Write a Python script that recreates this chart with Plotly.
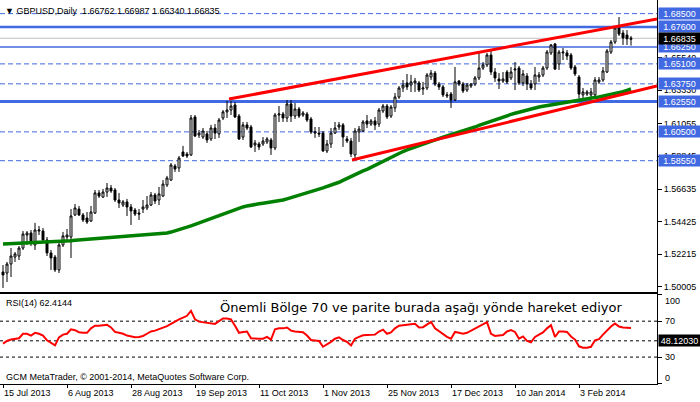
import plotly.graph_objects as go

# ---------------- data ----------------
date_labels = ['15 Jul 2013', '6 Aug 2013', '28 Aug 2013', '19 Sep 2013', '11 Oct 2013',
               '1 Nov 2013', '25 Nov 2013', '17 Dec 2013', '10 Jan 2014', '3 Feb 2014']
date_bars = [0, 16, 32, 48, 64, 80, 96, 112, 128, 144]

opens = [1.5102, 1.5095, 1.5156, 1.5203, 1.5210, 1.5264, 1.5352, 1.5366, 1.5285, 1.5379,
         1.5379, 1.5319, 1.5231, 1.5203, 1.5116, 1.5285, 1.5339, 1.5339, 1.5488, 1.5528,
         1.5488, 1.5467, 1.5447, 1.5501, 1.5637, 1.5609, 1.5643, 1.5670, 1.5657, 1.5589,
         1.5555, 1.5576, 1.5542, 1.5521, 1.5501, 1.5528, 1.5535, 1.5555, 1.5623, 1.5589,
         1.5616, 1.5691, 1.5724, 1.5819, 1.5806, 1.5914, 1.5900, 1.5894, 1.6151, 1.6029,
         1.6015, 1.6036, 1.6002, 1.6076, 1.6036, 1.6144, 1.6185, 1.6198, 1.6232, 1.6157,
         1.6015, 1.6097, 1.6083, 1.5961, 1.5968, 1.5968, 1.5982, 1.5995, 1.5941, 1.6164,
         1.6171, 1.6144, 1.6239, 1.6157, 1.6205, 1.6164, 1.6171, 1.6137, 1.6042, 1.6042,
         1.6042, 1.5921, 1.5968, 1.6042, 1.6083, 1.6097, 1.6002, 1.5988, 1.5894, 1.6049,
         1.6056, 1.6124, 1.6103, 1.6124, 1.6103, 1.6191, 1.6225, 1.6157, 1.6212, 1.6286,
         1.6347, 1.6381, 1.6367, 1.6381, 1.6381, 1.6340, 1.6347, 1.6421, 1.6448, 1.6374,
         1.6354, 1.6293, 1.6306, 1.6266, 1.6394, 1.6374, 1.6333, 1.6360, 1.6374, 1.6415,
         1.6482, 1.6503, 1.6570, 1.6455, 1.6408, 1.6394, 1.6455, 1.6415, 1.6469, 1.6482,
         1.6381, 1.6428, 1.6374, 1.6374, 1.6421, 1.6435, 1.6482, 1.6584, 1.6645, 1.6509,
         1.6584, 1.6584, 1.6570, 1.6489, 1.6421, 1.6300, 1.6306, 1.6300, 1.6300, 1.6388,
         1.6401, 1.6455, 1.6590, 1.6658, 1.6753, 1.6719, 1.6705, 1.66762]
highs = [1.5149, 1.5170, 1.5264, 1.5237, 1.5278, 1.5379, 1.5379, 1.5386, 1.5434, 1.5413,
         1.5400, 1.5339, 1.5251, 1.5217, 1.5298, 1.5373, 1.5393, 1.5528, 1.5562, 1.5549,
         1.5501, 1.5508, 1.5549, 1.5657, 1.5657, 1.5664, 1.5704, 1.5691, 1.5670, 1.5637,
         1.5589, 1.5596, 1.5562, 1.5535, 1.5528, 1.5589, 1.5616, 1.5643, 1.5637, 1.5677,
         1.5724, 1.5752, 1.5839, 1.5833, 1.5887, 1.5955, 1.5914, 1.6164, 1.6164, 1.6063,
         1.6076, 1.6056, 1.6097, 1.6103, 1.6144, 1.6198, 1.6259, 1.6259, 1.6252, 1.6171,
         1.6117, 1.6117, 1.6097, 1.5995, 1.5982, 1.6015, 1.6015, 1.6009, 1.6178, 1.6225,
         1.6185, 1.6266, 1.6266, 1.6245, 1.6218, 1.6191, 1.6185, 1.6151, 1.6083, 1.6083,
         1.6056, 1.5995, 1.6076, 1.6117, 1.6117, 1.6110, 1.6022, 1.6009, 1.6076, 1.6090,
         1.6130, 1.6164, 1.6137, 1.6151, 1.6212, 1.6239, 1.6239, 1.6232, 1.6313, 1.6360,
         1.6401, 1.6442, 1.6435, 1.6415, 1.6394, 1.6388, 1.6448, 1.6469, 1.6462, 1.6388,
         1.6367, 1.6320, 1.6320, 1.6489, 1.6401, 1.6388, 1.6381, 1.6381, 1.6428, 1.6584,
         1.6523, 1.6584, 1.6604, 1.6482, 1.6448, 1.6455, 1.6469, 1.6489, 1.6523, 1.6496,
         1.6469, 1.6448, 1.6401, 1.6489, 1.6455, 1.6496, 1.6604, 1.6645, 1.6651, 1.6604,
         1.6618, 1.6604, 1.6584, 1.6503, 1.6435, 1.6347, 1.6333, 1.6347, 1.6421, 1.6421,
         1.6489, 1.6611, 1.6672, 1.6766, 1.6827, 1.6739, 1.6739, 1.66987]
lows = [1.4994, 1.5034, 1.5068, 1.5170, 1.5183, 1.5251, 1.5285, 1.5278, 1.5251, 1.5352,
        1.5305, 1.5210, 1.5116, 1.5102, 1.5095, 1.5271, 1.5305, 1.5197, 1.5481, 1.5481,
        1.5440, 1.5427, 1.5440, 1.5494, 1.5603, 1.5603, 1.5610, 1.5637, 1.5576, 1.5535,
        1.5542, 1.5481, 1.5420, 1.5481, 1.5454, 1.5501, 1.5521, 1.5548, 1.5562, 1.5555,
        1.5610, 1.5677, 1.5718, 1.5779, 1.5779, 1.5880, 1.5873, 1.5887, 1.6015, 1.6009,
        1.6002, 1.5975, 1.5988, 1.6002, 1.6009, 1.6130, 1.6144, 1.6164, 1.6144, 1.5995,
        1.5995, 1.6063, 1.5941, 1.5914, 1.5927, 1.5955, 1.5968, 1.5894, 1.5927, 1.6117,
        1.6117, 1.6117, 1.6117, 1.6137, 1.6144, 1.6151, 1.6117, 1.6036, 1.6009, 1.6015,
        1.5914, 1.5907, 1.5941, 1.6036, 1.6063, 1.5948, 1.5975, 1.5880, 1.5860, 1.5982,
        1.6049, 1.6076, 1.6090, 1.6063, 1.6083, 1.6178, 1.6137, 1.6144, 1.6185, 1.6273,
        1.6320, 1.6333, 1.6320, 1.6320, 1.6320, 1.6300, 1.6333, 1.6401, 1.6360, 1.6333,
        1.6286, 1.6279, 1.6212, 1.6259, 1.6360, 1.6313, 1.6320, 1.6347, 1.6360, 1.6401,
        1.6469, 1.6489, 1.6435, 1.6388, 1.6340, 1.6381, 1.6374, 1.6401, 1.6333, 1.6367,
        1.6360, 1.6333, 1.6333, 1.6333, 1.6388, 1.6421, 1.6469, 1.6570, 1.6469, 1.6469,
        1.6536, 1.6536, 1.6469, 1.6428, 1.6273, 1.6273, 1.6293, 1.6286, 1.6273, 1.6374,
        1.6388, 1.6448, 1.6577, 1.6645, 1.6699, 1.6638, 1.6638, 1.66340]
closes = [1.5082, 1.5156, 1.5210, 1.5224, 1.5264, 1.5359, 1.5366, 1.5298, 1.5386, 1.5386,
          1.5319, 1.5231, 1.5197, 1.5116, 1.5285, 1.5346, 1.5352, 1.5481, 1.5535, 1.5488,
          1.5454, 1.5440, 1.5508, 1.5637, 1.5616, 1.5643, 1.5670, 1.5650, 1.5589, 1.5569,
          1.5576, 1.5542, 1.5515, 1.5494, 1.5494, 1.5542, 1.5555, 1.5623, 1.5582, 1.5630,
          1.5697, 1.5738, 1.5826, 1.5799, 1.5873, 1.5887, 1.5887, 1.6144, 1.6022, 1.6042,
          1.6056, 1.5995, 1.6076, 1.6042, 1.6130, 1.6185, 1.6198, 1.6225, 1.6151, 1.6002,
          1.6097, 1.6076, 1.5948, 1.5975, 1.5948, 1.5988, 1.6002, 1.5941, 1.6164, 1.6171,
          1.6144, 1.6239, 1.6157, 1.6205, 1.6157, 1.6178, 1.6130, 1.6049, 1.6049, 1.6036,
          1.5921, 1.5968, 1.6042, 1.6076, 1.6097, 1.6015, 1.5988, 1.5900, 1.6056, 1.6069,
          1.6117, 1.6103, 1.6124, 1.6097, 1.6198, 1.6225, 1.6151, 1.6218, 1.6286, 1.6347,
          1.6367, 1.6354, 1.6388, 1.6394, 1.6333, 1.6347, 1.6435, 1.6448, 1.6374, 1.6354,
          1.6300, 1.6300, 1.6266, 1.6388, 1.6374, 1.6327, 1.6367, 1.6374, 1.6415, 1.6482,
          1.6503, 1.6570, 1.6455, 1.6415, 1.6394, 1.6408, 1.6388, 1.6455, 1.6475, 1.6381,
          1.6442, 1.6374, 1.6347, 1.6435, 1.6435, 1.6482, 1.6590, 1.6638, 1.6475, 1.6590,
          1.6590, 1.6563, 1.6482, 1.6442, 1.6306, 1.6320, 1.6320, 1.6320, 1.6401, 1.6401,
          1.6462, 1.6597, 1.6658, 1.6753, 1.6712, 1.6685, 1.6680, 1.66835]

ma_values = [1.5291, 1.5292, 1.5293, 1.5294, 1.5295, 1.5297, 1.5298, 1.5299, 1.5300, 1.5302,
             1.5303, 1.5305, 1.5306, 1.5307, 1.5308, 1.5310, 1.5312, 1.5313, 1.5316, 1.5318,
             1.5320, 1.5322, 1.5324, 1.5326, 1.5328, 1.5331, 1.5334, 1.5336, 1.5339, 1.5341,
             1.5343, 1.5345, 1.5347, 1.5349, 1.5351, 1.5353, 1.5355, 1.5357, 1.5359, 1.5361,
             1.5363, 1.5366, 1.5372, 1.5379, 1.5387, 1.5396, 1.5405, 1.5414, 1.5424, 1.5434,
             1.5444, 1.5455, 1.5465, 1.5475, 1.5485, 1.5496, 1.5506, 1.5516, 1.5525, 1.5534,
             1.5542, 1.5549, 1.5555, 1.5559, 1.5563, 1.5567, 1.5571, 1.5575, 1.5579, 1.5584,
             1.5589, 1.5597, 1.5606, 1.5614, 1.5623, 1.5631, 1.5639, 1.5647, 1.5655, 1.5663,
             1.5671, 1.5679, 1.5687, 1.5697, 1.5709, 1.5722, 1.5736, 1.5748, 1.5760, 1.5773,
             1.5786, 1.5796, 1.5810, 1.5824, 1.5838, 1.5852, 1.5866, 1.5879, 1.5893, 1.5907,
             1.5917, 1.5928, 1.5938, 1.5949, 1.5959, 1.5969, 1.5979, 1.5990, 1.5999, 1.6007,
             1.6015, 1.6023, 1.6031, 1.6039, 1.6047, 1.6055, 1.6063, 1.6073, 1.6083, 1.6094,
             1.6104, 1.6114, 1.6124, 1.6134, 1.6144, 1.6152, 1.6160, 1.6168, 1.6176, 1.6184,
             1.6192, 1.6200, 1.6208, 1.6213, 1.6218, 1.6223, 1.6228, 1.6233, 1.6238, 1.6243,
             1.6248, 1.6253, 1.6258, 1.6263, 1.6268, 1.6272, 1.6276, 1.6279, 1.6283, 1.6286,
             1.6291, 1.6297, 1.6302, 1.6308, 1.6313, 1.6322, 1.6331, 1.6340]

rsi_values = [45, 48, 49.5, 50, 51, 56, 56, 54, 57, 56,
              54, 48.7, 46, 43, 52, 55, 56, 61, 60, 57.7,
              57, 57, 62, 65, 65, 65.5, 66, 63, 58, 57,
              56, 54, 53, 52, 52.4, 53.5, 56, 58.5, 59.5, 61,
              63, 64.5, 67, 70, 72, 74, 76, 81.6, 72, 69.5,
              69, 68.5, 68, 67, 70, 73, 73, 72, 65, 57,
              58, 58.5, 51, 50.5, 50.5, 50.5, 52.5, 49.4, 61, 62,
              62, 63, 59.5, 58.5, 57.7, 57.7, 54, 49, 48.5, 48,
              41.5, 44, 47, 50.5, 52, 49, 47, 43, 50.5, 52.5,
              54.3, 54.5, 55, 55, 58.5, 60.6, 56, 57.5, 62, 65,
              65.5, 66.3, 66.5, 67, 63, 63.3, 66.5, 69.3, 62, 58.5,
              55, 52.5, 50.5, 58, 57, 56, 57, 59.5, 62, 63.6,
              66.5, 69, 56, 53.5, 54, 54.5, 58.5, 60, 58, 50.5,
              53, 48, 46.5, 52.4, 55, 57.5, 62, 65.5, 52.4, 58.5,
              58.5, 58, 53, 49.5, 42, 40.5, 40.5, 41.5, 48.7, 50,
              55, 60, 64, 67.4, 64, 63, 63, 62.41]

# trend lines (bar index, price)
upper_trend_x = [56.5, 163.5]
upper_trend_y = [1.6272, 1.6814]
lower_trend_x = [87.25, 163.5]
lower_trend_y = [1.5860, 1.6360]

# horizontal levels
solid_levels = [1.67600, 1.66250, 1.62550]
solid_widths = [2.5, 1.5, 3]
dashed_levels = [1.68500, 1.65100, 1.63750, 1.60500, 1.58550]
current_price = 1.66835
price_ticks = [1.50005, 1.52215, 1.54425, 1.56635, 1.58845, 1.61055, 1.63330, 1.65540]

rsi_levels = [70, 48.1203, 30]
rsi_label_level = 48.1203
rsi_tick_vals = [100, 70, 30, 0]
rsi_tick_y = [92.4, 70, 30, 6.2]   # MT4 keeps the 0/100 labels inside the window

title_text = "▼ GBPUSD,Daily  1.66762 1.66987 1.66340 1.66835"
rsi_title = "RSI(14) 62.4144"
note_text = "Önemli Bölge 70 ve parite burada aşağı yönde hareket ediyor"
copyright_text = "GCM MetaTrader, © 2001-2014, MetaQuotes Software Corp."

# ---------------- figure ----------------
n = len(closes)
bars = list(range(n))
BLUE = "#4169E1"
FONT = "Liberation Sans, Arial, sans-serif"

fig = go.Figure()

fig.add_trace(go.Scatter(x=bars, y=ma_values, mode="lines", xaxis="x2", yaxis="y",
                         line=dict(color="#008000", width=3.5), hoverinfo="skip"))
fig.add_trace(go.Candlestick(x=bars, open=opens, high=highs, low=lows, close=closes,
                             xaxis="x2", yaxis="y", whiskerwidth=0,
                             increasing=dict(line=dict(color="black", width=1), fillcolor="white"),
                             decreasing=dict(line=dict(color="black", width=1), fillcolor="black"),
                             hoverinfo="skip"))
fig.add_trace(go.Scatter(x=upper_trend_x, y=upper_trend_y, mode="lines", xaxis="x2", yaxis="y",
                         line=dict(color="#FF0000", width=3), hoverinfo="skip"))
fig.add_trace(go.Scatter(x=lower_trend_x, y=lower_trend_y, mode="lines", xaxis="x2", yaxis="y",
                         line=dict(color="#FF0000", width=3), hoverinfo="skip"))
fig.add_trace(go.Scatter(x=bars, y=rsi_values, mode="lines", xaxis="x", yaxis="y2",
                         line=dict(color="#FF0000", width=2), hoverinfo="skip"))

shapes = []
for lv in dashed_levels:
    shapes.append(dict(type="line", xref="paper", x0=0, x1=1, yref="y", y0=lv, y1=lv,
                       line=dict(color=BLUE, width=1, dash="5px,3px"), layer="below"))
shapes.append(dict(type="line", xref="paper", x0=0, x1=1, yref="y", y0=current_price, y1=current_price,
                   line=dict(color="#C0C0C0", width=1), layer="below"))
for lv, w in zip(solid_levels, solid_widths):
    shapes.append(dict(type="line", xref="paper", x0=0, x1=1, yref="y", y0=lv, y1=lv,
                       line=dict(color=BLUE, width=w), layer="below"))
for lv in rsi_levels:
    shapes.append(dict(type="line", xref="paper", x0=0, x1=1, yref="y2", y0=lv, y1=lv,
                       line=dict(color="black", width=1, dash="3px,3px"), layer="below"))

annotations = []
def box(y, yref, text, bg):
    annotations.append(dict(xref="paper", x=1, xanchor="left", xshift=1, yref=yref, y=y,
                            text=text, showarrow=False, bgcolor=bg, width=41, height=11,
                            align="center", borderpad=0,
                            font=dict(family=FONT, size=9, color="white")))

for lv in dashed_levels + solid_levels:
    box(lv, "y", f"{lv:.5f}", BLUE)
box(current_price, "y", f"{current_price:.5f}", "black")
box(rsi_label_level, "y2", f"{rsi_label_level:.5f}", "black")

for v, yy in zip(rsi_tick_vals, rsi_tick_y):
    annotations.append(dict(xref="paper", x=1, xanchor="left", xshift=6, yref="y2", y=yy,
                            text=str(v), showarrow=False,
                            font=dict(family=FONT, size=9, color="black")))
annotations.append(dict(xref="paper", x=0.004, xanchor="left", yref="y", y=1.6868,
                        text=title_text, showarrow=False, font=dict(family=FONT, size=9, color="black")))
annotations.append(dict(xref="paper", x=0.006, xanchor="left", yref="y2", y=90.2,
                        text=rsi_title, showarrow=False, font=dict(family=FONT, size=9, color="black")))
annotations.append(dict(xref="paper", x=0.3318, xanchor="left", yref="y2", y=85.6,
                        text=note_text, showarrow=False,
                        font=dict(family="DejaVu Sans, sans-serif", size=13, color="black")))
annotations.append(dict(xref="paper", x=0.006, xanchor="left", yref="y2", y=7.3,
                        text=copyright_text, showarrow=False, font=dict(family=FONT, size=9, color="black")))

axis_common = dict(showgrid=False, zeroline=False, showline=True, linecolor="black",
                   linewidth=1, mirror=True, fixedrange=True)

fig.update_layout(
    width=700, height=402,
    margin=dict(l=0, r=43, t=0, b=18),
    paper_bgcolor="white", plot_bgcolor="white",
    showlegend=False,
    font=dict(family=FONT, size=9, color="black"),
    xaxis=dict(domain=[0, 1], anchor="y2", range=[-0.75, 163.5],
               tickvals=date_bars, ticktext=date_labels, ticks="outside", ticklen=3,
               tickcolor="black", ticklabelposition="outside right",
               rangeslider=dict(visible=False), **axis_common),
    xaxis2=dict(domain=[0, 1], anchor="y", matches="x", showticklabels=False, ticks="",
                rangeslider=dict(visible=False), **axis_common),
    yaxis=dict(domain=[0.2396, 1], anchor="x2", side="right", range=[1.49666, 1.69423],
               tickvals=price_ticks, ticktext=[f"{v:.5f}" for v in price_ticks],
               ticks="outside", ticklen=4, tickcolor="black", **axis_common),
    yaxis2=dict(domain=[0, 0.2337], anchor="x", side="right", range=[0, 100],
                tickvals=rsi_tick_vals, showticklabels=False,
                ticks="outside", ticklen=4, tickcolor="black", **axis_common),
    shapes=shapes,
    annotations=annotations,
)

fig.write_html("out.html", config={"displayModeBar": False},
               post_script="document.body.style.margin='0';document.body.style.overflow='hidden';")
